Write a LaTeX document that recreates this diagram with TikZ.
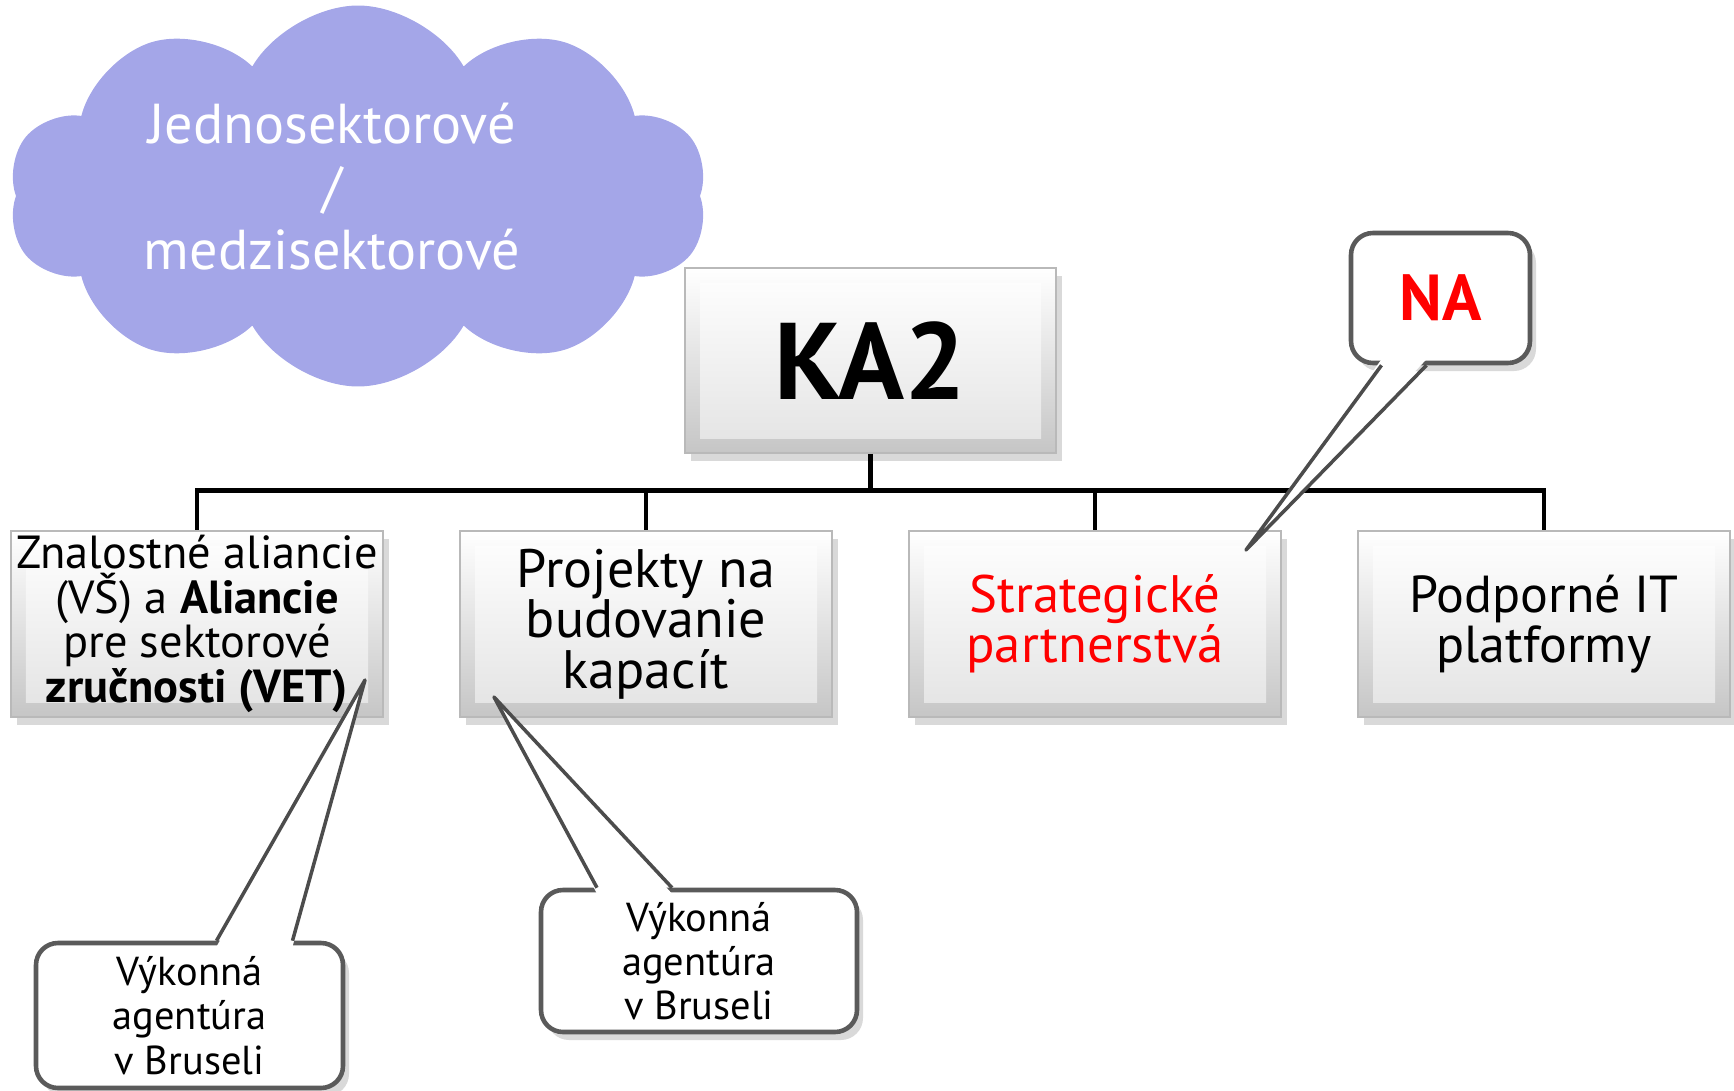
\documentclass[tikz,border=0pt]{standalone}
\usepackage{fontspec}
\setmainfont{PT Sans}
\usetikzlibrary{shapes.symbols, shadows, calc}
\definecolor{cloudblue}{HTML}{A4A6E8}
\definecolor{bubblegray}{HTML}{5A5A5A}
\tikzset{>=stealth,
  tile/.style={draw=gray!55, line width=0.5pt, minimum width=3.72cm, minimum height=1.86cm,
    align=center, inner sep=0pt, top color=white, bottom color=gray!45,
    drop shadow={opacity=0.3, shadow xshift=0.6mm, shadow yshift=-0.8mm},
    path picture={\shade[top color=white, bottom color=gray!22]
      ([shift={(0.15,-0.15)}]path picture bounding box.north west) rectangle
      ([shift={(-0.15,0.15)}]path picture bounding box.south east);}},
  bubble/.style={draw=bubblegray, line width=1.3pt, fill=white, rounded corners=0.22cm,
    align=center, inner sep=0pt, font=\fontsize{11.5}{12.6}\selectfont,
    drop shadow={opacity=0.3, shadow xshift=0.6mm, shadow yshift=-0.8mm}},
  tail/.style={draw=gray!60!black, line width=1pt, line join=round},
  bus/.style={line width=1.4pt}
}

\begin{document}
\begin{tikzpicture}
\useasboundingbox (0,0) rectangle (17.34,10.90);
\node[cloud, cloud puffs=10, cloud puff arc=120, cloud ignores aspect, fill=cloudblue,
  minimum width=6.99cm, minimum height=3.81cm] (sector) at (3.58,8.94) {};
\node[align=center, text=white, font=\fontsize{16}{17.9}\selectfont] (sectortext)
  at ($(sector)+(-0.26,0.09)$) {Jednosektorové\\/\\medzisektorové};
\node[tile, font=\bfseries\fontsize{31}{32}\selectfont, minimum width=3.71cm, minimum height=1.85cm] (ka2) at (8.705,7.295) {KA2};
\node[tile, font=\fontsize{13.2}{12.7}\selectfont] (zna) at (1.97,4.66) {Znalostné aliancie\\(VŠ) a \textbf{Aliancie}\\pre sektorové\\\textbf{zručnosti (VET)}};
\node[tile, font=\fontsize{15.4}{14.3}\selectfont] (pro) at (6.46,4.66) {Projekty na\\budovanie\\kapacít};
\node[tile, font=\fontsize{15}{14.3}\selectfont, text=red] (str) at (10.95,4.66) {Strategické\\partnerstvá};
\node[tile, font=\fontsize{14.8}{14.3}\selectfont] (pod) at (15.44,4.66) {Podporné IT\\platformy};
\draw[bus] (ka2.south) -- ++(0,-0.37) coordinate (bus);
\foreach \b in {zna,pro,str,pod}
\draw[bus] (bus) -| (\b.north);
\node[bubble, minimum width=1.79cm, minimum height=1.30cm, text=red,
  font=\bfseries\fontsize{18.5}{20}\selectfont] (na) at (14.405,7.92) {NA};
\node[bubble, minimum width=3.07cm, minimum height=1.45cm] (vyk1) at (1.895,0.745) {Výkonná\\agentúra\\v Bruseli};
\node[bubble, minimum width=3.16cm, minimum height=1.42cm] (vyk2) at (6.99,1.29) {Výkonná\\agentúra\\v Bruseli};
\coordinate (naA) at ($(na.south)+(-0.59,0)$);
\coordinate (naB) at ($(na.south)+(-0.14,0)$);
\coordinate (naT) at (12.46,5.40);
\coordinate (v1A) at ($(vyk1.north)+(0.27,0)$);
\coordinate (v1B) at ($(vyk1.north)+(1.03,0)$);
\coordinate (v1T) at (3.65,4.10);
\coordinate (v2A) at ($(vyk2.north)+(-1.02,0)$);
\coordinate (v2B) at ($(vyk2.north)+(-0.27,0)$);
\coordinate (v2T) at (4.94,3.93);
\fill[white] ($(naA)+(0,0.06)$) -- (naT) -- ($(naB)+(0,0.06)$) -- cycle;
\draw[tail] (naA) -- (naT) -- (naB);
\fill[white] ($(v1A)+(0,-0.06)$) -- (v1T) -- ($(v1B)+(0,-0.06)$) -- cycle;
\draw[tail] (v1A) -- (v1T) -- (v1B);
\fill[white] ($(v2A)+(0,-0.06)$) -- (v2T) -- ($(v2B)+(0,-0.06)$) -- cycle;
\draw[tail] (v2A) -- (v2T) -- (v2B);
\end{tikzpicture}
\end{document}
